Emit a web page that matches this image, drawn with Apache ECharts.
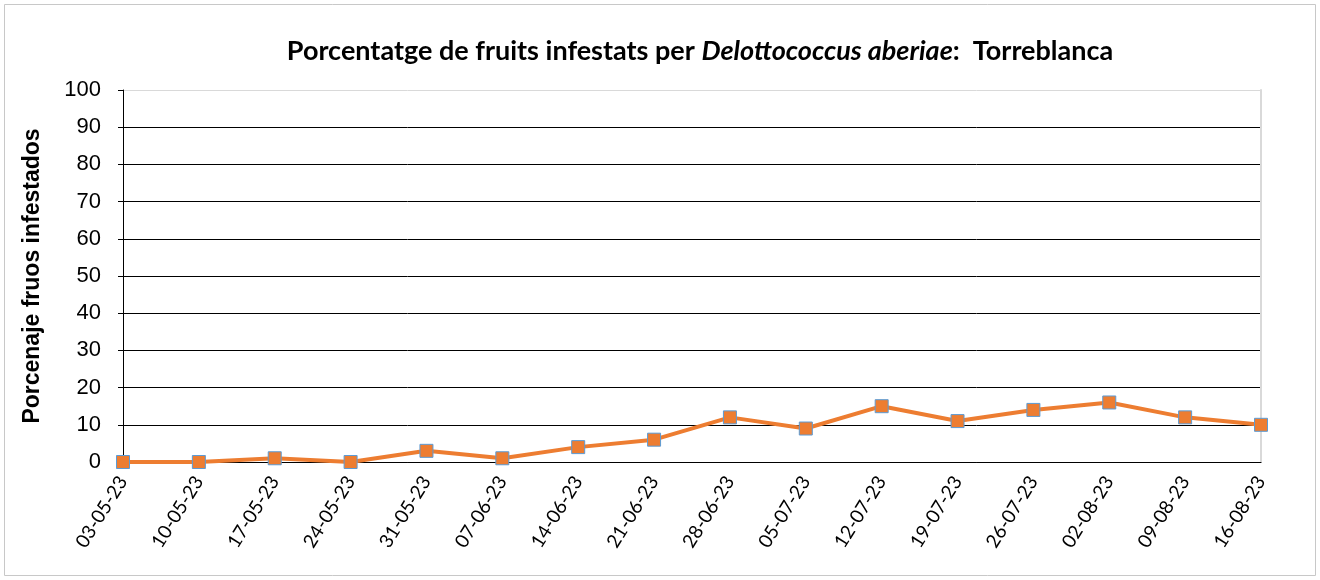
<!DOCTYPE html>
<html>
<head>
<meta charset="utf-8">
<script src="https://cdn.jsdelivr.net/npm/echarts@6/dist/echarts.min.js"></script>
<style>
  html, body { margin: 0; padding: 0; background: #fff; }
  #chart { width: 1320px; height: 580px; }
</style>
</head>
<body>
<div id="chart"></div>
<script>
// dates of sampling
const fechas = [
  "03-05-23", "10-05-23", "17-05-23", "24-05-23", "31-05-23", "07-06-23",
  "14-06-23", "21-06-23", "28-06-23", "05-07-23", "12-07-23", "19-07-23",
  "26-07-23", "02-08-23", "09-08-23", "16-08-23"
];
// % fruits infestats
const infestats = [0, 0, 1, 0, 3, 1, 4, 6, 12, 9, 15, 11, 14, 16, 12, 10];

const chart = echarts.init(document.getElementById("chart"));

// black grid lines, the top one (100) light gray
const gridColors = ["#000", "#000", "#000", "#000", "#000", "#000", "#000", "#000", "#000", "#000", "#d9d9d9"];

const option = {
  animation: false,
  backgroundColor: "#fff",
  graphic: [
    {
      type: "rect",
      shape: { x: 4.5, y: 4.5, width: 1311, height: 571 },
      style: { fill: "none", stroke: "#c8c8c8", lineWidth: 1 },
    },
  ],
  title: {
    text: "{b|Porcentatge de fruits infestats per }{i|Delottococcus aberiae}{b|:  Torreblanca}",
    left: 695,
    textAlign: "center",
    top: 33,
    textStyle: {
      rich: {
        b: { fontFamily: "Lato", fontWeight: "bold", fontSize: 27, color: "#000" },
        i: { fontFamily: "Lato", fontWeight: "bold", fontStyle: "italic", fontSize: 27, color: "#000" },
      },
    },
  },
  grid: { left: 123, right: 59, top: 90, bottom: 118 },
  xAxis: {
    type: "category",
    data: fechas,
    boundaryGap: false,
    axisLine: { lineStyle: { color: "#000", width: 1 } },
    axisTick: { show: false },
    axisLabel: {
      rotate: 58,
      interval: 0,
      fontFamily: "Lato",
      fontSize: 19,
      color: "#000",
      margin: 16,
    },
  },
  yAxis: [
    {
      type: "value",
      min: 0,
      max: 100,
      interval: 10,
      name: "Porcenaje fruos infestados",
      nameLocation: "middle",
      nameGap: 79,
      nameTextStyle: { fontFamily: "Liberation Sans", fontWeight: "bold", fontSize: 23, color: "#000" },
      axisLine: { show: true, lineStyle: { color: "#000", width: 1 } },
      axisTick: { show: true, length: 5, lineStyle: { color: "#000" } },
      axisLabel: { fontFamily: "Liberation Sans", fontSize: 22, color: "#000", margin: 22 },
      splitLine: { lineStyle: { color: gridColors, width: 1 } },
    },
    {
      type: "value",
      position: "right",
      min: 0,
      max: 100,
      interval: 10,
      axisLine: { show: true, lineStyle: { color: "#d9d9d9", width: 2 } },
      axisTick: { show: false },
      axisLabel: { show: false },
      splitLine: { show: false },
    },
  ],
  series: [
    {
      type: "line",
      data: infestats,
      symbol: "rect",
      symbolSize: 13,
      lineStyle: { color: "#ed7d31", width: 4 },
      itemStyle: { color: "#ed7d31", borderColor: "#5b9bd5", borderWidth: 1 },
    },
  ],
};

chart.setOption(option);
</script>
</body>
</html>
